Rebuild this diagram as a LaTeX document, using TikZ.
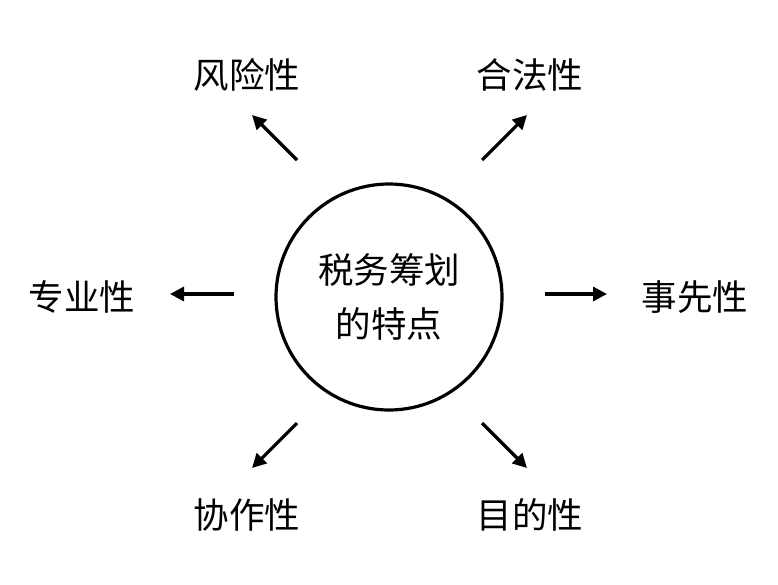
\documentclass[tikz,border=0pt]{standalone}
\usepackage{fontspec}
\newfontfamily\cjk{Noto Sans CJK SC}
\usetikzlibrary{arrows.meta}

\tikzset{
    feature/.style={font=\cjk\fontsize{35.5}{40}\selectfont, inner sep=0pt},
    spoke/.style={line width=3.2pt, -{Triangle[length=14pt,width=14pt]}}
}

\begin{document}
\begin{tikzpicture}[x=1pt, y=-1pt]
    \useasboundingbox (0,0) rectangle (778,584);

    % centre circle with the title
    \node[circle, draw, line width=3.2pt, minimum size=226pt, inner sep=0pt] (core) at (389,297) {};
    \node[feature, align=center, font=\cjk\fontsize{35.5}{54}\selectfont] (title) at (389,297) {税务筹划\\的特点};

    % the six features
    \node[feature] (risk)   at (247,75)  {风险性};
    \node[feature] (legal)  at (530,75)  {合法性};
    \node[feature] (expert) at (82,297)  {专业性};
    \node[feature] (ahead)  at (695,297) {事先性};
    \node[feature] (coop)   at (247,515) {协作性};
    \node[feature] (aim)    at (530,515) {目的性};

    % arrow ends
    \coordinate (riskA)   at (297,160); \coordinate (riskB)   at (252,115);
    \coordinate (legalA)  at (482,160); \coordinate (legalB)  at (527,115);
    \coordinate (expertA) at (234,294); \coordinate (expertB) at (170,294);
    \coordinate (aheadA)  at (545,294); \coordinate (aheadB)  at (607,294);
    \coordinate (coopA)   at (297,423); \coordinate (coopB)   at (252,468);
    \coordinate (aimA)    at (482,423); \coordinate (aimB)    at (527,468);

    \foreach \f in {risk,legal,expert,ahead,coop,aim}
        \draw[spoke] (\f A) -- (\f B);

\end{tikzpicture}
\end{document}
